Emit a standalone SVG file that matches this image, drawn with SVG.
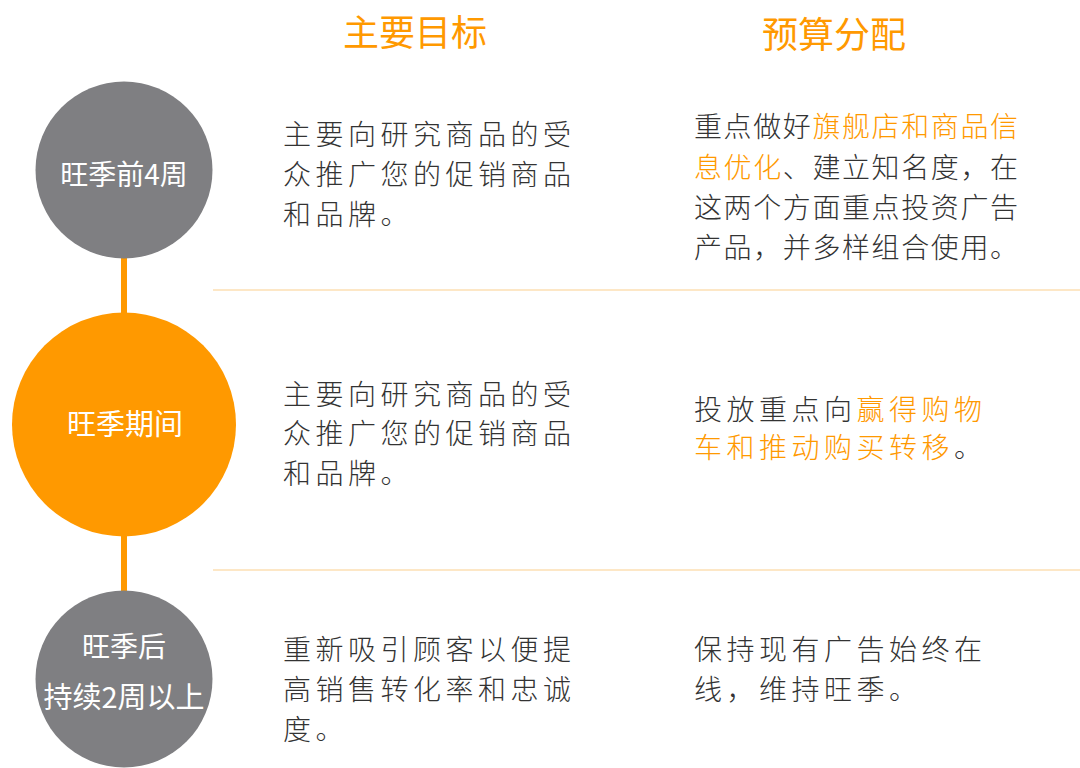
<svg xmlns="http://www.w3.org/2000/svg" width="1080" height="768" viewBox="0 0 1080 768">
<style>
text { font-family: "Noto Sans CJK SC", "Noto Sans", sans-serif; }
.hdr { font-size: 36px; fill: #FF9900; text-anchor: middle; }
.ctext { font-size: 28px; fill: #FFFFFF; text-anchor: middle; }
.body { font-size: 28px; fill: #333333; font-weight: 300; }
.c1 { letter-spacing: 4.5px; }
.hl { fill: #FF9900; }
.sep { stroke: #FDE7C6; stroke-width: 2; }
.conn { stroke: #FF9900; stroke-width: 6; }
</style>
<rect width="1080" height="768" fill="#FFFFFF"/>
<g id="headers">
<text class="hdr" x="415" y="46">主要目标</text>
<text class="hdr" x="834" y="48">预算分配</text>
</g>
<g id="separators">
<line class="sep" x1="213" y1="290" x2="1080" y2="290"/>
<line class="sep" x1="213" y1="570" x2="1080" y2="570"/>
</g>
<g id="connectors">
<line class="conn" x1="124" y1="256" x2="124" y2="315"/>
<line class="conn" x1="124" y1="534" x2="124" y2="593"/>
</g>
<g id="node-before">
<circle cx="124" cy="170" r="88.5" fill="#7F7F82"/>
<text class="ctext" x="124" y="185">旺季前4周</text>
</g>
<g id="node-during">
<circle cx="124" cy="424.5" r="112" fill="#FF9900"/>
<text class="ctext" x="125" y="435" style="font-size:29px">旺季期间</text>
</g>
<g id="node-after">
<circle cx="124" cy="679" r="88.5" fill="#7F7F82"/>
<text class="ctext" x="124" y="657">旺季后</text>
<text class="ctext" x="124" y="708" style="font-size:29px">持续2周以上</text>
</g>
<g id="row1-goal">
<text class="body c1" x="283" y="145">主要向研究商品的受</text>
<text class="body c1" x="283" y="185">众推广您的促销商品</text>
<text class="body c1" x="283" y="225">和品牌。</text>
</g>
<g id="row1-budget">
<text class="body" x="694" y="137" style="letter-spacing:1.6px">重点做好<tspan class="hl">旗舰店和商品信</tspan></text>
<text class="body" x="694" y="178" style="letter-spacing:1.6px"><tspan class="hl">息优化</tspan>、建立知名度，在</text>
<text class="body" x="694" y="218" style="letter-spacing:1.6px">这两个方面重点投资广告</text>
<text class="body" x="694" y="258" style="letter-spacing:1.6px">产品，并多样组合使用。</text>
</g>
<g id="row2-goal">
<text class="body c1" x="283" y="405">主要向研究商品的受</text>
<text class="body c1" x="283" y="444">众推广您的促销商品</text>
<text class="body c1" x="283" y="484">和品牌。</text>
</g>
<g id="row2-budget">
<text class="body" x="694" y="420" style="letter-spacing:4.5px">投放重点向<tspan class="hl">赢得购物</tspan></text>
<text class="body" x="694" y="458" style="letter-spacing:4.5px"><tspan class="hl">车和推动购买转移</tspan>。</text>
</g>
<g id="row3-goal">
<text class="body c1" x="283" y="660">重新吸引顾客以便提</text>
<text class="body c1" x="283" y="700">高销售转化率和忠诚</text>
<text class="body c1" x="283" y="740">度。</text>
</g>
<g id="row3-budget">
<text class="body" x="694" y="660" style="letter-spacing:4.5px">保持现有广告始终在</text>
<text class="body" x="694" y="700" style="letter-spacing:4.5px">线，维持旺季。</text>
</g>
</svg>
